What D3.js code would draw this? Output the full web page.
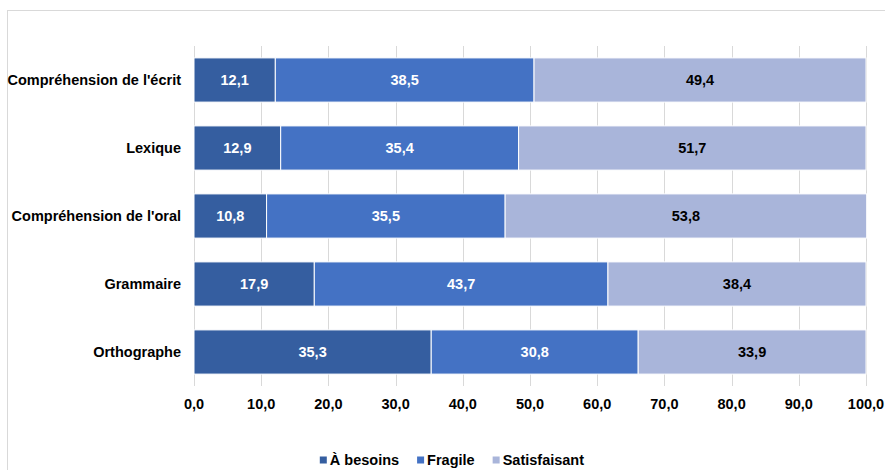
<!DOCTYPE html>
<html>
<head>
<meta charset="utf-8">
<script src="https://cdn.jsdelivr.net/npm/d3@7"></script>
<style>
  body { margin: 0; background: #fff; }
  text { font-family: "Liberation Sans", Arial, sans-serif; font-weight: bold; }
</style>
</head>
<body>
<script>
// chart data
const categories = ["Compréhension de l'écrit", 'Lexique', "Compréhension de l'oral", 'Grammaire', 'Orthographe'];
const series     = ['À besoins', 'Fragile', 'Satisfaisant'];
const besoins    = [12.1, 12.9, 10.8, 17.9, 35.3];
const fragile    = [38.5, 35.4, 35.5, 43.7, 30.8];
const satisf     = [49.4, 51.7, 53.8, 38.4, 33.9];
const ticks      = [0, 10, 20, 30, 40, 50, 60, 70, 80, 90, 100];

const colors     = ['#355ea0', '#4472c4', '#a9b5da'];
const textColors = ['#fff', '#fff', '#000'];

const width    = 885;
const height   = 470;
const fontSize = 14.5;

const rows = categories.map((c, i) => ({ cat: c, values: [besoins[i], fragile[i], satisf[i]] }));

// create svg
const svg = d3.select('body')
  .append('svg')
    .attr('width', width)
    .attr('height', height);

// chart border
svg.append('rect')
  .attr('x', 7.5).attr('y', 10.5)
  .attr('width', width).attr('height', height)
  .attr('fill', 'none')
  .attr('stroke', '#d9d9d9');

const x = d3.scaleLinear().domain([0, 100]).range([194, 866]);
const y = d3.scaleBand().domain(categories).range([46, 386]).paddingInner(0.35).paddingOuter(0.175);

// gridlines
svg.append('g')
  .selectAll('line')
  .data(ticks)
  .join('line')
    .attr('x1', (d) => Math.round(x(d)) + 0.5)
    .attr('x2', (d) => Math.round(x(d)) + 0.5)
    .attr('y1', 46)
    .attr('y2', 386)
    .attr('stroke', '#d9d9d9');

// stacked bars
const stack = d3.stack().keys([0, 1, 2]).value((d, k) => d.values[k])(rows);

const layers = svg.append('g')
  .selectAll('g')
  .data(stack)
  .join('g')
    .attr('fill', (d, i) => colors[i]);

layers.selectAll('rect')
  .data((d) => d)
  .join('rect')
    .attr('x', (d) => x(d[0]))
    .attr('y', (d) => y(d.data.cat))
    .attr('width', (d) => x(d[1]) - x(d[0]))
    .attr('height', y.bandwidth())
    .attr('stroke', '#fff')
    .attr('stroke-width', 1);

// value labels
layers.selectAll('text')
  .data((d, i) => d.map((p) => ({ p, i })))
  .join('text')
    .attr('x', ({ p }) => (x(p[0]) + x(p[1])) / 2)
    .attr('y', ({ p }) => y(p.data.cat) + y.bandwidth() / 2)
    .attr('dy', '0.35em')
    .attr('text-anchor', 'middle')
    .attr('font-size', fontSize)
    .attr('fill', ({ i }) => textColors[i])
    .text(({ p }) => d3.format('.1f')(p[1] - p[0]).replace('.', ','));

// category labels
svg.append('g')
  .selectAll('text')
  .data(categories)
  .join('text')
    .attr('x', 181)
    .attr('y', (d) => y(d) + y.bandwidth() / 2)
    .attr('dy', '0.35em')
    .attr('text-anchor', 'end')
    .attr('font-size', fontSize)
    .attr('fill', '#000')
    .text((d) => d);

// x tick labels
svg.append('g')
  .selectAll('text')
  .data(ticks)
  .join('text')
    .attr('x', (d) => x(d))
    .attr('y', 404)
    .attr('dy', '0.35em')
    .attr('text-anchor', 'middle')
    .attr('font-size', fontSize)
    .attr('fill', '#000')
    .text((d) => d3.format('.1f')(d).replace('.', ','));

// legend, laid out from measured text widths
const legend = svg.append('g')
  .attr('transform', 'translate(0,460)');

const items = legend.selectAll('g')
  .data(series)
  .join('g');

items.append('rect')
  .attr('x', 0).attr('y', -3.5)
  .attr('width', 7).attr('height', 7)
  .attr('fill', (d, i) => colors[i]);

items.append('text')
  .attr('x', 10)
  .attr('dy', '0.35em')
  .attr('font-size', fontSize)
  .attr('fill', '#000')
  .text((d) => d);

let offset = 0;
const offsets = [];
items.each(function () {
  offsets.push(offset);
  offset += this.getBBox().width + 18;
});
const total  = offset - 18;
const startX = 452 - total / 2;
items.attr('transform', (d, i) => `translate(${startX + offsets[i]},0)`);
</script>
</body>
</html>
